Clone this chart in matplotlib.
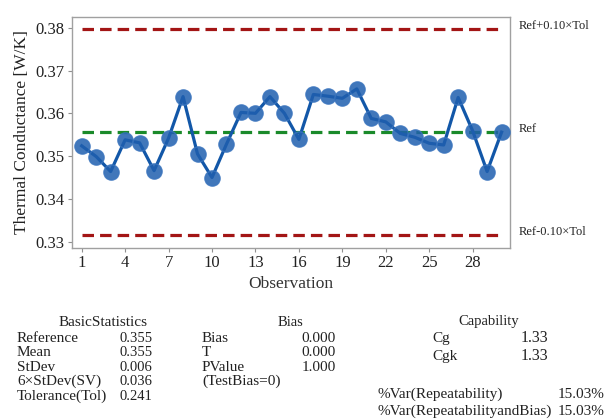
import matplotlib
matplotlib.use('Agg')
import matplotlib.pyplot as plt

plt.rcParams['font.family'] = ['Liberation Serif', 'DejaVu Serif']

# measured thermal conductance per observation
observations = list(range(1, 31))
conductance = [0.3524, 0.3499, 0.3464, 0.3538, 0.3531, 0.3466, 0.3542, 0.3639, 0.3505, 0.3450,
               0.3528, 0.3602, 0.3600, 0.3639, 0.3600, 0.3539, 0.3644, 0.3640, 0.3635, 0.3657,
               0.3588, 0.3580, 0.3553, 0.3544, 0.3530, 0.3526, 0.3637, 0.3559, 0.3464, 0.3556]

ref_value = 0.3556
tolerance = 0.241
tol_fraction = 0.10

x_ticks = [1, 4, 7, 10, 13, 16, 19, 22, 25, 28]
y_ticks = [0.33, 0.34, 0.35, 0.36, 0.37, 0.38]

# summary tables below the chart
basic_rows = [('Reference', '0.355'), ('Mean', '0.355'), ('StDev', '0.006'),
              ('6\u00d7StDev(SV)', '0.036'), ('Tolerance(Tol)', '0.241')]
bias_rows = [('Bias', '0.000'), ('T', '0.000'), ('PValue', '1.000'), ('(TestBias=0)', '')]
capability_rows = [('Cg', '1.33'), ('Cgk', '1.33')]
var_rows = [('%Var(Repeatability)', '15.03%'), ('%Var(RepeatabilityandBias)', '15.03%')]

W, H = 607, 419
fig = plt.figure(figsize=(W / 100, H / 100), dpi=100)
ax = fig.add_axes([71.7 / W, 1 - 247.7 / H, (510 - 71.7) / W, (247.7 - 17) / H])

upper = ref_value + tol_fraction * tolerance
lower = ref_value - tol_fraction * tolerance

# limit and reference lines
for yv, col in [(upper, '#a31515'), (lower, '#a31515'), (ref_value, '#1a8a2a')]:
    ln, = ax.plot([1, 30], [yv, yv], color=col, lw=2.3, zorder=1)
    ln.set_dashes((3.6, 1.9))

ax.plot(observations, conductance, color='#1257a8', lw=2.3, zorder=2)
ax.plot(observations, conductance, 'o', ms=11, mfc='#1f5fae', mec='#3a74bd',
        mew=1, alpha=0.85, zorder=3)

ax.set_xlim(0.31, 30.58)
ax.set_ylim(0.3286, 0.3825)
ax.set_xticks(x_ticks)
ax.set_yticks(y_ticks)
ax.set_yticklabels(['%.2f' % v for v in y_ticks])
ax.tick_params(direction='out', length=3, color='#909090', labelsize=12, pad=2,
               labelcolor='#222222')
for sp in ax.spines.values():
    sp.set_color('#a0a0a0')
    sp.set_linewidth(1)

ax.set_xlabel('Observation', fontsize=12.5, color='#333333', labelpad=4)
ax.set_ylabel('Thermal Conductance [W/K]', fontsize=12.5, color='#222222', labelpad=4)

# right side labels for the lines
tr = ax.get_yaxis_transform()
ax.text(1.02, upper, 'Ref+0.10\u00d7Tol', transform=tr, fontsize=9, va='baseline',
        color='#222222')
ax.text(1.02, ref_value, 'Ref', transform=tr, fontsize=9, va='baseline', color='#222222')
ax.text(1.02, lower, 'Ref-0.10\u00d7Tol', transform=tr, fontsize=9, va='baseline',
        color='#222222')


def px(x, y):
    return x / W, 1 - y / H


tc = '#222222'
fig.text(*px(103, 322), 'BasicStatistics', ha='center', va='center', fontsize=11, color=tc)
for i, (lab, val) in enumerate(basic_rows):
    y = 338 + i * 14.5
    fig.text(*px(17, y), lab, va='center', fontsize=11, color=tc)
    fig.text(*px(119, y), val, va='center', fontsize=10.5, color=tc)

fig.text(*px(290, 322), 'Bias', ha='center', va='center', fontsize=10.5, color=tc)
for i, (lab, val) in enumerate(bias_rows):
    y = 338 + i * 14.5
    fig.text(*px(202, y), lab, va='center', fontsize=11, color=tc)
    if val:
        fig.text(*px(336, y), val, ha='right', va='center', fontsize=11, color=tc)

fig.text(*px(489, 322), 'Capability', ha='center', va='center', fontsize=10.5, color=tc)
for i, (lab, val) in enumerate(capability_rows):
    y = 338 + i * 18
    fig.text(*px(432, y), lab, va='center', fontsize=11, color=tc)
    fig.text(*px(548, y), val, ha='right', va='center', fontsize=11.5, color=tc)

for i, (lab, val) in enumerate(var_rows):
    y = 394 + i * 17
    fig.text(*px(377, y), lab, va='center', fontsize=11, color=tc)
    fig.text(*px(605, y), val, ha='right', va='center', fontsize=11, color=tc)

fig.savefig('out.png', dpi=100)
